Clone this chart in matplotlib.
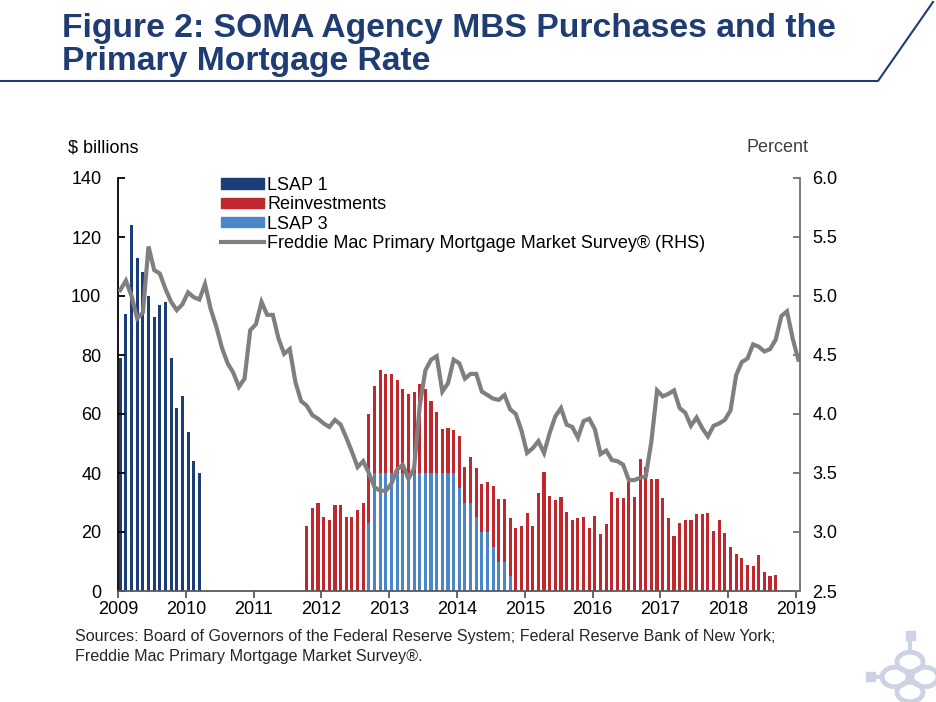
import numpy as np
import matplotlib
matplotlib.use("Agg")
import matplotlib.pyplot as plt
from matplotlib.lines import Line2D
from matplotlib.patches import Patch, Circle, Rectangle

plt.rcParams['font.family'] = ['Liberation Sans', 'DejaVu Sans']

# months counted from Jan 2009 (= 0)
years = ['2009', '2010', '2011', '2012', '2013', '2014', '2015', '2016', '2017', '2018', '2019']

# LSAP 1 purchases, Jan 2009 - Mar 2010 ($ billions)
lsap1_start = 0
lsap1 = [79, 94, 124, 113, 108, 100, 93, 97, 98, 79, 62, 66, 54, 44, 40]

# LSAP 3 purchases, Sep 2012 - Oct 2014
lsap3_start = 44
lsap3 = [23, 40, 40, 40, 40, 40, 40, 40, 40, 40, 40, 40, 40, 40, 40, 40,
         35, 30, 30, 25, 20, 20, 15, 10, 10, 5]

# reinvestments (stacked on LSAP 3), Oct 2011 - Sep 2018
reinv_start = 33
reinv = [22, 28, 30,
         25, 24, 29, 29, 25, 25, 27.5, 30, 37, 29.6, 34.8, 33.6,
         33.6, 31.5, 28.6, 26.7, 27.3, 30.3, 28.4, 24.3, 20.7, 14.8, 15.1, 14.5,
         17.7, 11.9, 15.5, 16.6, 16.2, 16.9, 20.6, 21.1, 21.1, 19.8, 21.2, 21.9,
         26.4, 21.9, 33.1, 40.2, 32.3, 30.7, 31.8, 26.8, 24.0, 24.7, 25.2, 21.2,
         25.4, 19.2, 22.8, 33.4, 31.4, 31.4, 37.1, 31.8, 44.6, 42.1, 38.0, 38.0,
         31.4, 24.7, 18.5, 23.2, 24.2, 24.2, 26.1, 26.1, 26.4, 20.2, 24.1, 19.8,
         14.8, 12.5, 11.3, 8.9, 8.6, 12.3, 6.6, 5.2, 5.5]

# Freddie Mac PMMS 30-yr rate, Jan 2009 - Jan 2019 (percent)
rate = [5.05, 5.13, 5.00, 4.81, 4.86, 5.42, 5.22, 5.19, 5.06, 4.95, 4.88, 4.93,
        5.03, 4.99, 4.97, 5.10, 4.89, 4.74, 4.56, 4.43, 4.35, 4.23, 4.30, 4.71,
        4.76, 4.95, 4.84, 4.84, 4.64, 4.51, 4.55, 4.27, 4.11, 4.07, 3.99, 3.96,
        3.92, 3.89, 3.95, 3.91, 3.80, 3.68, 3.55, 3.60, 3.50, 3.38, 3.35, 3.35,
        3.41, 3.53, 3.57, 3.45, 3.54, 4.07, 4.37, 4.46, 4.49, 4.19, 4.26, 4.46,
        4.43, 4.30, 4.34, 4.34, 4.19, 4.16, 4.13, 4.12, 4.16, 4.04, 4.00, 3.86,
        3.67, 3.71, 3.77, 3.67, 3.84, 3.98, 4.05, 3.91, 3.89, 3.80, 3.94, 3.96,
        3.87, 3.66, 3.69, 3.61, 3.60, 3.57, 3.44, 3.44, 3.46, 3.47, 3.77, 4.20,
        4.15, 4.17, 4.20, 4.05, 4.01, 3.90, 3.97, 3.88, 3.81, 3.90, 3.92, 3.95,
        4.03, 4.33, 4.44, 4.47, 4.59, 4.57, 4.53, 4.55, 4.63, 4.83, 4.87, 4.64,
        4.46]

navy = '#1B3D78'
red = '#C0282E'
lblue = '#4A86C8'
grey = '#7F7F7F'
title_col = '#1F3C73'

fig = plt.figure(figsize=(9.36, 7.02), dpi=100)
ax = fig.add_axes([118/936, 1-591/702, 682/936, 413/702])
ax2 = ax.twinx()

off = 0.4
bw = 0.55

x1 = np.arange(len(lsap1)) + lsap1_start + off
ax.bar(x1, lsap1, bw, color=navy)

# full monthly arrays for stacking
n = 121
l3 = np.zeros(n)
l3[lsap3_start:lsap3_start+len(lsap3)] = lsap3
rv = np.zeros(n)
rv[reinv_start:reinv_start+len(reinv)] = reinv
xm = np.arange(n) + off
m3 = l3 > 0
ax.bar(xm[m3], l3[m3], bw, color=lblue)
mr = rv > 0
ax.bar(xm[mr], rv[mr], bw, bottom=l3[mr], color=red)

ax2.plot(np.arange(len(rate)) + off, rate, color=grey, lw=3, solid_joinstyle='miter')

ax.set_xlim(0, 120.7)
ax.set_ylim(0, 140)
ax2.set_ylim(2.5, 6.0)
ax.set_xticks(np.arange(0, 121, 12))
ax.set_xticklabels(years)
ax.set_yticks(np.arange(0, 141, 20))
ax2.set_yticks(np.arange(2.5, 6.01, 0.5))
ax2.set_yticklabels(['%.1f' % v for v in np.arange(2.5, 6.01, 0.5)])

for a in (ax, ax2):
    a.spines['top'].set_visible(False)
    a.spines['left'].set_linewidth(1.3)
    a.spines['right'].set_linewidth(1.3)
    a.spines['bottom'].set_linewidth(1.3)
ax.spines['left'].set_color('black')
ax2.spines['right'].set_color('#707070')
ax.spines['bottom'].set_color('#595959')
ax2.spines['bottom'].set_visible(False)
ax.spines['right'].set_visible(False)
ax2.spines['left'].set_visible(False)

ax.tick_params(axis='y', direction='in', length=5, width=1.3, pad=12, labelsize=13)
ax.tick_params(axis='x', direction='out', length=5, width=1.3, pad=2, labelsize=13,
               color='#595959')
ax2.tick_params(axis='y', direction='in', length=5, width=1.3, pad=9, labelsize=13,
                color='#707070')

fig.text(68/936, 1-148/702, '$ billions', fontsize=13, va='center', ha='left')
fig.text(809/936, 1-148/702, 'Percent', fontsize=13, va='center', ha='right',
         color='#404040')

handles = [Patch(color=navy), Patch(color=red), Patch(color=lblue),
           Line2D([], [], color=grey, lw=3)]
labels = ['LSAP 1', 'Reinvestments', 'LSAP 3',
          'Freddie Mac Primary Mortgage Market Survey® (RHS)']
fig.legend(handles, labels, loc='upper left', bbox_to_anchor=(221/936, 1-177/702),
           frameon=False, fontsize=13, handlelength=2.4, handleheight=0.5,
           handletextpad=0.15, labelspacing=0.13, borderpad=0, borderaxespad=0)

fig.text(62/936, 1-37/702, 'Figure 2: SOMA Agency MBS Purchases and the',
         weight='bold', fontsize=24.2, color=title_col, va='baseline')
fig.text(62/936, 1-70/702, 'Primary Mortgage Rate',
         weight='bold', fontsize=24.2, color=title_col, va='baseline')
fig.add_artist(Line2D([0, 878/936, 933/936], [1-81/702, 1-81/702, 1-2/702],
                      color=title_col, lw=1.5, transform=fig.transFigure))

fig.text(75/936, 1-636/702,
         'Sources: Board of Governors of the Federal Reserve System; Federal Reserve Bank of New York;',
         fontsize=11.6, va='center', color='#262626')
fig.text(75/936, 1-656/702, 'Freddie Mac Primary Mortgage Market Survey®.',
         fontsize=11.6, va='center', color='#262626')

# faint logo, bottom right
logo = '#CDD3E5'
for cx, cy in [(910, 662), (895, 677), (925, 677), (910, 692)]:
    fig.add_artist(Circle((cx/936, 1-cy/702), 13/936, transform=fig.transFigure,
                          fill=False, ec=logo, lw=3.5))
fig.add_artist(Line2D([910/936, 910/936], [1-636/702, 1-649/702], color=logo, lw=3,
                      transform=fig.transFigure))
fig.add_artist(Line2D([871/936, 882/936], [1-677/702, 1-677/702], color=logo, lw=3,
                      transform=fig.transFigure))
fig.add_artist(Rectangle((906/936, 1-640/702), 9/936, 9/702, transform=fig.transFigure,
                         color=logo))
fig.add_artist(Rectangle((866/936, 1-681/702), 9/936, 9/702, transform=fig.transFigure,
                         color=logo))

fig.savefig('out.png', dpi=100)
